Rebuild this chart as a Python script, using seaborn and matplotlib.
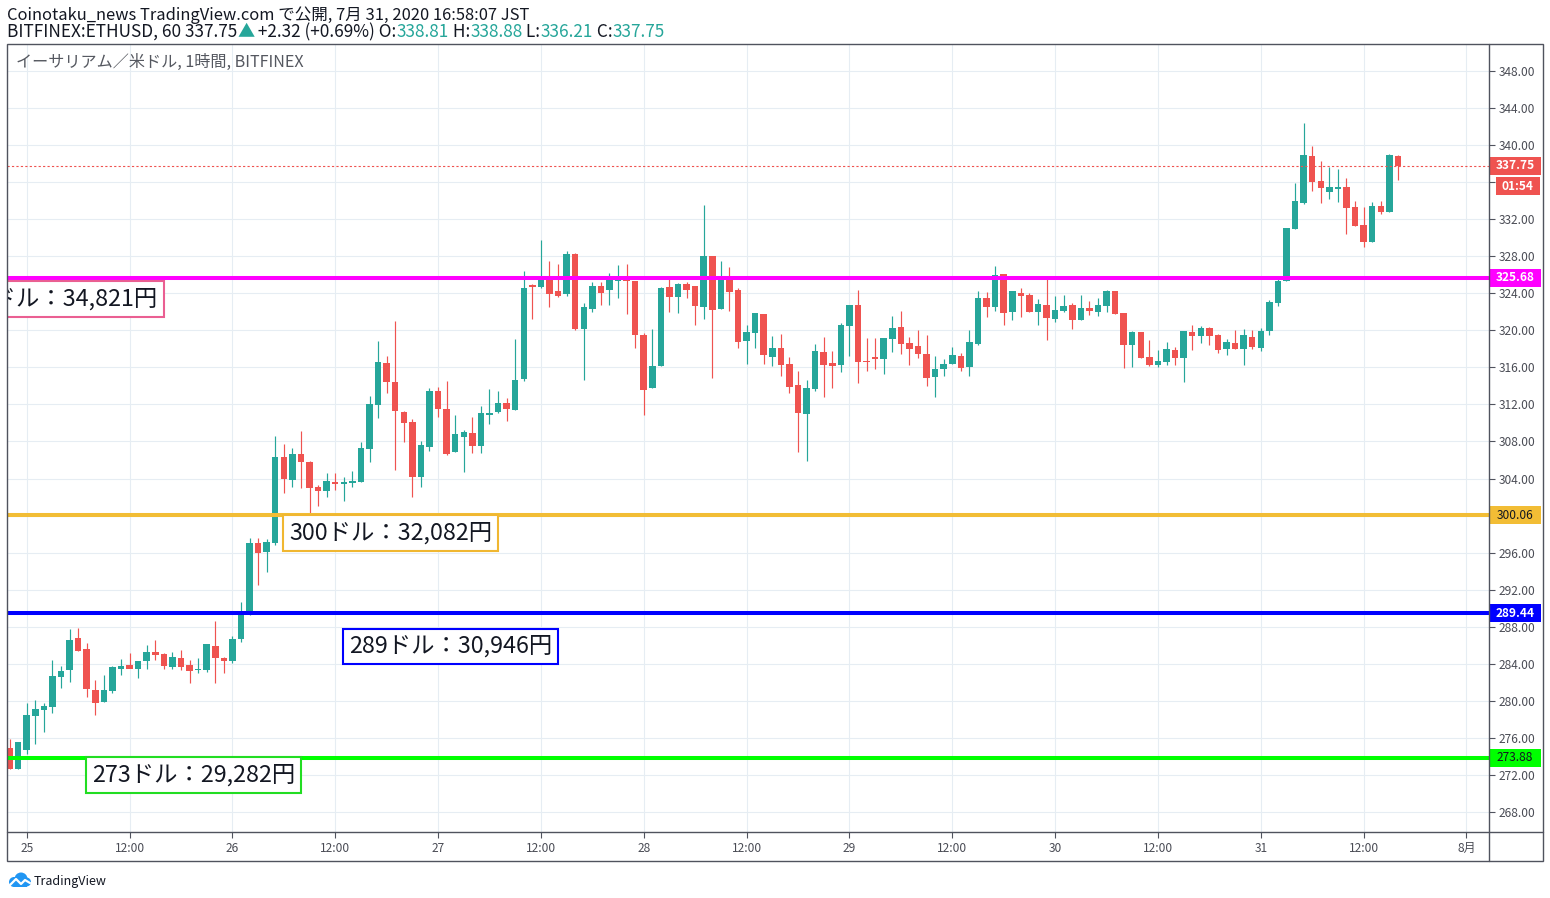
import numpy as np
import pandas as pd
import seaborn as sns
import matplotlib.pyplot as plt
import matplotlib.transforms as mtransforms
from matplotlib.patches import Rectangle, Circle
from matplotlib.lines import Line2D

# ======================
# Data: BITFINEX ETHUSD, 1h candles, 24 Jul 22:00 -> 31 Jul 16:00 (JST)
# ======================

opens = [
    274.91, 272.68, 274.70, 278.37, 279.02, 279.38, 282.61, 283.33, 286.79, 285.60,
    281.17, 279.92, 281.10, 283.40, 283.87, 283.48, 284.27, 285.28, 285.06, 283.69,
    284.63, 283.87, 283.33, 283.33, 285.92, 284.63, 284.34, 286.64, 289.60, 297.01,
    296.11, 297.08, 306.33, 303.85, 306.65, 305.79, 303.06, 302.70, 303.63, 303.42,
    303.49, 303.67, 307.23, 311.98, 316.51, 314.46, 311.19, 310.11, 304.21, 307.45,
    313.46, 311.51, 306.86, 308.48, 308.92, 307.51, 310.86, 311.18, 312.15, 311.40,
    314.75, 324.89, 324.68, 325.61, 324.25, 323.92, 328.24, 320.14, 322.30, 324.78,
    324.35, 325.32, 325.54, 325.32, 319.50, 313.81, 316.15, 324.68, 323.64, 325.00,
    324.79, 322.52, 328.02, 322.30, 325.65, 324.36, 318.88, 319.75, 321.76, 317.16,
    318.09, 316.37, 314.10, 311.00, 313.70, 317.66, 316.51, 316.26, 320.50, 322.74,
    316.69, 317.12, 316.91, 319.07, 320.36, 318.63, 318.31, 317.45, 314.97, 315.83,
    316.37, 317.23, 316.04, 318.53, 323.49, 322.52, 326.08, 321.98, 324.03, 323.82,
    321.98, 322.74, 321.23, 322.12, 322.74, 321.15, 322.41, 322.02, 322.66, 324.25,
    321.87, 318.46, 319.82, 317.16, 316.26, 316.62, 317.88, 317.05, 319.82, 319.39,
    320.25, 319.50, 317.99, 318.63, 317.99, 319.28, 318.09, 319.90, 322.95, 325.37,
    330.94, 333.75, 338.82, 336.13, 334.94, 335.26, 335.48, 333.32, 331.38, 329.54,
    333.43, 332.78, 338.81,
]
highs = [
    275.85, 275.56, 279.73, 280.09, 279.81, 284.41, 283.77, 287.72, 287.87, 286.28,
    282.25, 282.79, 283.77, 284.48, 285.20, 284.27, 286.00, 286.57, 285.13, 285.28,
    285.50, 284.41, 284.63, 286.14, 288.66, 284.70, 287.00, 290.68, 297.55, 297.55,
    297.44, 308.60, 307.73, 307.34, 309.17, 305.93, 303.31, 304.57, 304.57, 304.21,
    304.82, 307.95, 312.92, 318.85, 317.23, 321.01, 311.33, 310.40, 308.06, 313.82,
    313.92, 314.53, 310.86, 309.24, 310.64, 311.83, 313.67, 313.45, 312.69, 319.06,
    326.40, 325.00, 329.75, 327.48, 327.16, 328.56, 328.35, 322.95, 325.22, 325.22,
    326.19, 327.05, 327.16, 325.32, 319.71, 320.14, 324.68, 325.61, 325.11, 325.18,
    324.79, 333.53, 328.02, 327.48, 326.87, 324.57, 320.58, 321.87, 321.80, 319.39,
    319.64, 317.12, 315.61, 314.64, 318.52, 319.28, 317.80, 320.79, 322.73, 324.36,
    319.17, 319.17, 319.17, 321.55, 322.09, 319.28, 320.04, 319.50, 317.23, 316.91,
    318.20, 317.56, 320.04, 324.25, 324.14, 326.95, 326.08, 324.25, 324.57, 324.03,
    323.39, 325.76, 323.71, 323.82, 322.95, 323.82, 323.17, 323.49, 324.36, 324.25,
    321.87, 319.93, 319.82, 318.96, 317.88, 318.74, 318.20, 319.93, 320.58, 320.47,
    320.36, 319.61, 319.07, 320.04, 320.15, 320.04, 320.20, 323.30, 325.51, 331.05,
    335.91, 342.39, 339.90, 338.28, 337.64, 337.42, 336.45, 333.97, 333.32, 333.86,
    333.97, 339.04, 338.88,
]
lows = [
    272.68, 272.68, 274.27, 275.34, 276.68, 278.73, 281.43, 282.07, 285.38, 280.45,
    278.48, 279.92, 280.81, 282.76, 283.51, 282.50, 283.40, 284.41, 283.40, 283.40,
    283.33, 281.97, 283.04, 283.12, 281.97, 282.97, 284.12, 286.30, 289.30, 292.51,
    293.95, 296.83, 302.48, 303.13, 303.02, 300.25, 301.04, 302.05, 302.77, 301.62,
    303.06, 303.67, 305.83, 310.58, 313.28, 304.93, 307.99, 302.05, 303.13, 307.01,
    310.69, 306.54, 306.86, 304.74, 306.76, 306.76, 309.89, 311.08, 310.21, 311.40,
    314.57, 321.22, 324.57, 322.52, 323.60, 323.70, 320.04, 314.64, 321.98, 322.73,
    322.73, 323.49, 321.76, 318.09, 310.86, 313.81, 316.15, 322.02, 321.91, 323.53,
    320.58, 321.22, 314.89, 322.30, 322.09, 318.13, 316.40, 318.13, 316.40, 316.15,
    315.11, 313.27, 306.90, 305.93, 313.49, 312.84, 313.81, 315.54, 317.27, 314.35,
    315.65, 315.86, 315.33, 317.66, 317.45, 316.26, 317.02, 314.03, 312.84, 315.11,
    316.37, 315.65, 315.11, 318.42, 321.44, 322.09, 320.58, 321.12, 321.44, 321.98,
    320.58, 318.96, 320.90, 321.95, 320.15, 321.15, 321.69, 321.58, 322.02, 321.80,
    315.97, 316.08, 317.05, 316.15, 316.08, 316.30, 316.26, 314.46, 317.88, 318.63,
    318.42, 317.55, 317.34, 317.99, 316.26, 317.99, 317.80, 319.50, 322.63, 325.30,
    330.94, 333.64, 335.04, 333.75, 334.18, 333.86, 330.40, 331.27, 328.99, 329.54,
    332.56, 332.78, 336.21,
]
closes = [
    272.68, 275.56, 278.48, 279.16, 279.45, 282.69, 283.26, 286.57, 285.38, 281.25,
    279.81, 281.17, 283.62, 283.77, 283.48, 284.27, 285.28, 284.99, 283.80, 284.77,
    283.69, 283.26, 283.48, 286.14, 284.63, 284.34, 286.64, 289.60, 297.01, 296.00,
    297.12, 306.33, 304.00, 306.65, 305.83, 303.02, 302.70, 303.70, 303.42, 303.63,
    303.74, 307.30, 312.05, 316.59, 314.46, 311.33, 310.04, 304.21, 307.66, 313.49,
    311.47, 306.65, 308.81, 309.02, 307.51, 311.08, 311.08, 312.15, 311.51, 314.64,
    324.57, 324.68, 325.61, 323.92, 323.70, 328.24, 320.14, 322.52, 324.78, 324.03,
    325.86, 325.54, 325.32, 319.50, 313.56, 316.15, 324.57, 323.64, 325.00, 324.39,
    322.66, 328.02, 322.20, 325.65, 324.14, 318.78, 319.82, 321.87, 317.37, 318.09,
    316.29, 313.92, 311.11, 313.78, 317.80, 316.29, 316.19, 320.58, 322.73, 316.58,
    316.58, 316.91, 319.17, 320.25, 318.53, 317.99, 317.45, 314.86, 315.83, 316.37,
    317.34, 315.94, 318.74, 323.49, 322.52, 325.98, 321.87, 324.25, 323.71, 321.98,
    322.84, 321.33, 322.20, 322.63, 321.15, 322.41, 322.12, 322.74, 324.25, 321.80,
    318.46, 319.82, 317.05, 316.26, 316.69, 317.99, 317.05, 319.93, 319.39, 320.25,
    319.39, 317.88, 318.74, 317.99, 319.50, 318.20, 319.93, 323.06, 325.29, 331.05,
    333.97, 338.93, 336.02, 335.37, 335.48, 335.48, 333.21, 331.27, 329.54, 333.43,
    332.78, 338.93, 337.75,
]

# time axis: hours counted from 24 Jul 22:00
tick_hours = [2, 14, 26, 38, 50, 62, 74, 86, 98, 110, 122, 134, 146, 158, 170]
tick_labels = ["25", "12:00", "26", "12:00", "27", "12:00", "28", "12:00",
               "29", "12:00", "30", "12:00", "31", "12:00", "8月"]

price_ticks = list(range(268, 349, 4))

# horizontal levels and their yen notes
level_prices = [325.68, 300.06, 289.44, 273.88]
level_colors = ["#ff00ff", "#f2bd35", "#0000ff", "#00ff00"]
level_tag_text = ["#ffffff", "#131722", "#ffffff", "#131722"]

note_texts = ["325ドル：34,821円", "300ドル：32,082円", "289ドル：30,946円", "273ドル：29,282円"]
note_prices = [323.38, 298.12, 285.87, 271.99]
note_hours = [17.3, 32.6, 39.6, 9.6]
note_align = ["right", "left", "left", "left"]
note_colors = ["#ea5f92", "#f0b731", "#0000ff", "#22dd22"]

last_price = 337.75
countdown = "01:54"

UP = "#26a69a"
DOWN = "#ef5350"
GRID = "#e6edf3"
FRAME = "#50535e"
TEXT = "#131722"

W, H = 1550, 898

# ======================
# Style
# ======================

sns.set_theme(style="white")
plt.rcParams["font.family"] = ["Noto Sans CJK JP", "DejaVu Sans"]

df = pd.DataFrame({"open": opens, "high": highs, "low": lows, "close": closes})
df["hour"] = np.arange(len(df))
df["up"] = df["close"] >= df["open"]
df["color"] = np.where(df["up"], UP, DOWN)
df["body_low"] = df[["open", "close"]].min(axis=1)
df["body_h"] = (df["close"] - df["open"]).abs().clip(lower=0.12)

fig = plt.figure(figsize=(W / 100, H / 100), dpi=100)
fig.patch.set_facecolor("white")

ax = fig.add_axes([7 / W, 1 - 832 / H, 1482 / W, 788 / H])
ax.set_facecolor("white")

ymin, ymax = 265.84, 350.91
ax.set_xlim(-0.30, 172.63)
ax.set_ylim(ymin, ymax)

# ======================
# Candles
# ======================

ax.vlines(df["hour"], df["low"], df["high"], colors=df["color"], linewidth=0.85, zorder=2)
ax.bar(df["hour"], df["body_h"], bottom=df["body_low"], width=0.76,
       color=df["color"], linewidth=0, zorder=2)

# ======================
# Levels
# ======================

for p, c in zip(level_prices, level_colors):
    ax.axhline(p, color=c, linewidth=2.9, zorder=3)

ax.axhline(last_price, color=DOWN, linewidth=0.8, linestyle=(0, (2, 2)), zorder=3)

for txt, p, h, ha, c in zip(note_texts, note_prices, note_hours, note_align, note_colors):
    ax.text(h, p, txt, ha=ha, va="center", fontsize=16.8, color=TEXT, zorder=4,
            clip_on=True,
            bbox=dict(boxstyle="square,pad=0.26", facecolor="white", edgecolor=c, linewidth=1.5))

# ======================
# Axes, ticks, grid
# ======================

for s in ax.spines.values():
    s.set_visible(False)

ax.yaxis.tick_right()
ax.set_yticks(price_ticks)
ax.set_yticklabels([f"{v:.2f}" for v in price_ticks])
ax.set_xticks(tick_hours)
ax.set_xticklabels(tick_labels)
ax.tick_params(axis="y", right=True, left=False, length=4, width=0.8, color=FRAME,
               pad=3.2, labelsize=8.6, labelcolor="#4a4c55")
ax.tick_params(axis="x", bottom=True, length=4, width=0.8, color=FRAME,
               pad=3.5, labelsize=8.6, labelcolor="#4a4c55")
ax.grid(True, color=GRID, linewidth=0.8)
ax.set_axisbelow(True)

# price tags on the right scale
trans = mtransforms.blended_transform_factory(ax.transAxes, ax.transData)
px_x = 1.0 / 1482
px_y = (ymax - ymin) / 788


def price_tag(price, text, fc, tc, x0=0, x1=52, bold=True):
    h = 18 * px_y
    ax.add_patch(Rectangle((1 + x0 * px_x, price - h / 2), (x1 - x0) * px_x, h,
                           transform=trans, facecolor=fc, edgecolor="none",
                           clip_on=False, zorder=6))
    ax.text(1 + (x0 + x1) / 2 * px_x, price, text, transform=trans, ha="center",
            va="center", fontsize=8.6, color=tc, fontweight="bold" if bold else "normal",
            clip_on=False, zorder=7)


price_tag(last_price, f"{last_price:.2f}", DOWN, "white")
price_tag(335.53, countdown, DOWN, "white", x0=7, x1=51)
for p, c, tc in zip(level_prices, level_colors, level_tag_text):
    price_tag(p, f"{p:.2f}", c, tc, bold=(tc == "#ffffff"))

# frame lines
fig.add_artist(Rectangle((7 / W, 1 - 861 / H), 1536 / W, 817 / H, transform=fig.transFigure,
                         fill=False, edgecolor=FRAME, linewidth=1.0))
fig.add_artist(Line2D([7 / W, 1543 / W], [1 - 832 / H] * 2, transform=fig.transFigure,
                      color=FRAME, linewidth=1.0))
fig.add_artist(Line2D([1489 / W] * 2, [1 - 44 / H, 1 - 861 / H], transform=fig.transFigure,
                      color=FRAME, linewidth=1.0))

# ======================
# Header texts
# ======================

renderer = fig.canvas.get_renderer()


def chain_text(pieces, x_px, y_px, size):
    x = x_px
    for s, c in pieces:
        t = fig.text(x / W, 1 - y_px / H, s, color=c, fontsize=size, ha="left", va="baseline")
        x += t.get_window_extent(renderer=renderer).width


chain_text([("Coinotaku_news TradingView.com で公開, 7月 31, 2020 16:58:07 JST", TEXT)], 7, 20, 11.9)
chain_text([
    ("BITFINEX:ETHUSD, 60 337.75", TEXT), ("▲", UP), (" +2.32 (+0.69%) O:", TEXT),
    ("338.81", UP), (" H:", TEXT), ("338.88", UP), (" L:", TEXT), ("336.21", UP),
    (" C:", TEXT), ("337.75", UP),
], 7, 37, 12.4)

fig.text(16 / W, 1 - 67 / H, "イーサリアム／米ドル, 1時間, BITFINEX", color="#555860",
         fontsize=11.6, ha="left", va="baseline")

# TradingView logo
lax = fig.add_axes([8 / W, 1 - 888 / H, 23 / W, 17 / H])
lax.set_xlim(0, 23)
lax.set_ylim(0, 17)
lax.axis("off")
for cx, cy, r in [(6, 6, 5), (13, 9, 6.5), (18.5, 6, 4.5)]:
    lax.add_patch(Circle((cx, cy), r, color="#2196f3", linewidth=0))
lax.add_patch(Rectangle((6, 1), 12.5, 5, color="#2196f3", linewidth=0))
lax.plot([2, 8, 13, 17, 22], [3, 9, 4, 8, 5], color="white", linewidth=1.6)
fig.text(34 / W, 1 - 885 / H, "TradingView", color=TEXT, fontsize=9, ha="left", va="baseline")

fig.savefig("out.png", dpi=100)
plt.close(fig)
